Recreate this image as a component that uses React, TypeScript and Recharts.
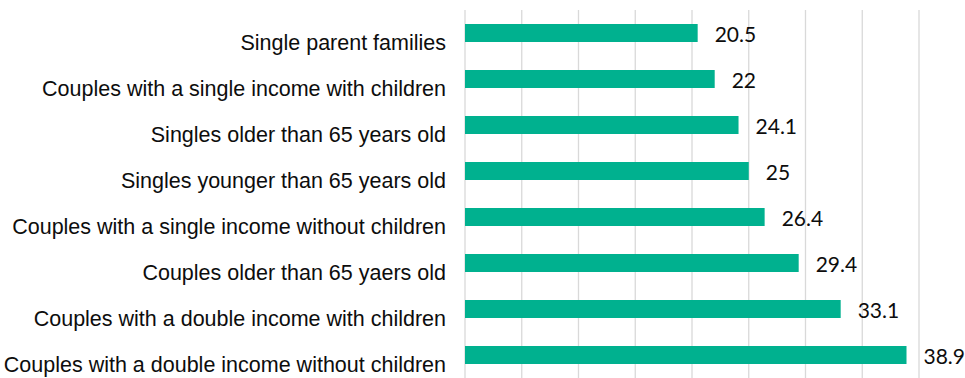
import React from "react";
import { BarChart, Bar, XAxis, YAxis, CartesianGrid, LabelList } from "recharts";

const categories = [
  "Single parent families",
  "Couples with a single income with children",
  "Singles older than 65 years old",
  "Singles younger than 65 years old",
  "Couples with a single income without children",
  "Couples older than 65 yaers old",
  "Couples with a double income with children",
  "Couples with a double income without children",
];
const values = [20.5, 22, 24.1, 25, 26.4, 29.4, 33.1, 38.9];
const xTicks = [0, 5, 10, 15, 20, 25, 30, 35, 40];

const data = categories.map((c, i) => ({ name: c, value: values[i] }));

const CatTick = (props: any) => {
  const { x, y, payload } = props;
  return (
    <text
      x={x - 11}
      y={y + 17}
      textAnchor="end"
      fill="#0d0d0d"
      fontFamily="'Liberation Sans', Arial, sans-serif"
      fontSize={21.5}
    >
      {payload.value}
    </text>
  );
};

const ValueLabel = (props: any) => {
  const { x, y, width, height, value } = props;
  return (
    <text
      x={x + width + 17}
      y={y + height / 2 + 9}
      textAnchor="start"
      fill="#0d0d0d"
      fontFamily="Lato, 'Open Sans', sans-serif"
      fontSize={21}
    >
      {value}
    </text>
  );
};

export default function App() {
  return (
    <div style={{ position: "absolute", left: 0, top: 0, background: "#fff" }}>
      <BarChart
        width={965}
        height={378}
        data={data}
        layout="vertical"
        margin={{ top: 10, right: 46, bottom: 0, left: 0 }}
      >
        <CartesianGrid horizontal={false} vertical={true} stroke="#d9d9d9" strokeWidth={1.3} />
        <XAxis type="number" domain={[0, 40]} ticks={xTicks} hide />
        <YAxis
          type="category"
          dataKey="name"
          width={465}
          axisLine={false}
          tickLine={false}
          tick={<CatTick />}
          interval={0}
        />
        <Bar dataKey="value" fill="#00B18F" barSize={18} isAnimationActive={false}>
          <LabelList dataKey="value" content={<ValueLabel />} />
        </Bar>
      </BarChart>
    </div>
  );
}
